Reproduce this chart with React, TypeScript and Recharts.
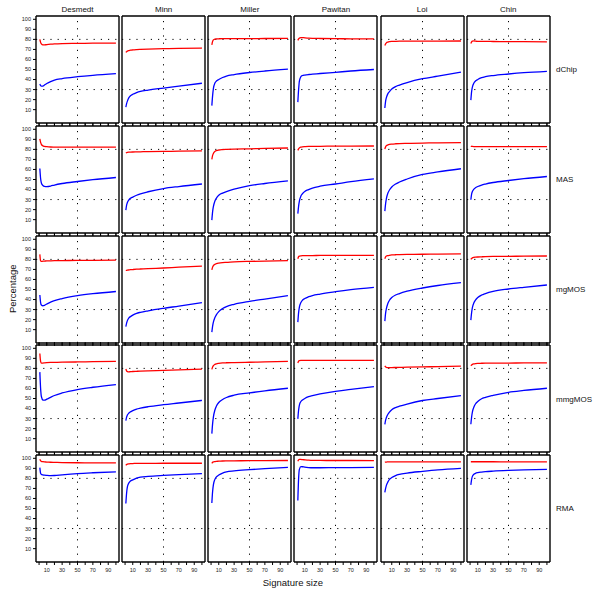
import { LineChart, Line, XAxis, YAxis, ReferenceLine } from 'recharts'

const sizes = [1, 2, 3, 5, 7, 10, 15, 20, 30, 50, 70, 100]
const datasets = ['Desmedt', 'Minn', 'Miller', 'Pawitan', 'Loi', 'Chin']
const methods = ['dChip', 'MAS', 'mgMOS', 'mmgMOS', 'RMA']
const xTicks = [0, 10, 20, 30, 40, 50, 60, 70, 80, 90, 100]
const xLabels = [10, 30, 50, 70, 90]
const yTicks = [10, 20, 30, 40, 50, 60, 70, 80, 90, 100]

// one array per dataset, in the order of `datasets`
const dChipRed = [
  [80, 77, 75.5, 74.5, 74.5, 74.8, 75.2, 75.5, 75.8, 76, 76.2, 76.3],
  [67, 67.8, 68.3, 68.8, 69.2, 69.5, 69.8, 70, 70.3, 70.7, 71, 71.4],
  [74.5, 78, 79.5, 80.3, 80.5, 80.6, 80.7, 80.7, 80.8, 80.8, 80.9, 81],
  [79, 80.5, 81.3, 81.7, 81.8, 81.6, 81.3, 81.1, 80.9, 80.7, 80.6, 80.5],
  [73.8, 75.5, 76.5, 77.3, 77.7, 78, 78.1, 78.2, 78.3, 78.3, 78.3, 78.4],
  [75.8, 77.5, 78.3, 78.5, 78.3, 78.1, 78, 78, 77.9, 77.8, 77.7, 77.6],
]
const dChipBlue = [
  [35.5, 34, 33.5, 33.5, 34.5, 36, 38, 39.5, 41, 42.8, 44.2, 45.8],
  [12.5, 16, 18.5, 22, 23.8, 25.3, 27, 28.2, 29.5, 31.5, 33.5, 36.3],
  [14, 24, 31, 36.5, 38.5, 40, 42, 43.5, 45, 47, 48.5, 50.3],
  [17.5, 30, 38.5, 43, 44, 44.5, 45, 45.3, 46, 47.2, 48.5, 50],
  [11.7, 18.5, 22, 26, 28, 30.5, 33, 34.5, 37, 40.8, 43.3, 47.3],
  [19.5, 28, 32.5, 36.5, 38.5, 40, 41.8, 42.8, 44, 45.5, 46.8, 48.2],
]
const masRed = [
  [90.5, 87, 85, 83.5, 83, 82.7, 82.4, 82.3, 82.2, 82.2, 82.2, 82.3],
  [76.5, 76.8, 77, 77.2, 77.3, 77.4, 77.5, 77.6, 77.8, 78, 78.2, 78.5],
  [70, 74, 76, 78, 78.8, 79.4, 79.8, 80, 80.3, 80.6, 81, 81.4],
  [79, 80.5, 81.5, 82.3, 82.6, 82.8, 83, 83, 83.1, 83.2, 83.3, 83.4],
  [80.3, 82.5, 83.7, 84.5, 85, 85.3, 85.6, 85.8, 86, 86.3, 86.5, 86.8],
  [83.3, 83, 82.9, 82.8, 82.8, 82.8, 82.8, 82.8, 82.8, 82.8, 82.8, 82.8],
]
const masBlue = [
  [61, 51, 46.5, 44, 43.2, 43, 43.5, 44.5, 46, 48, 49.8, 52],
  [19.5, 24.5, 27, 29.8, 31.3, 32.5, 34.3, 35.7, 37.8, 41, 43, 45.5],
  [9.5, 18, 23, 28.5, 31.5, 34.3, 36.5, 38, 40.3, 43.8, 46, 48.6],
  [16, 23.5, 28.5, 33.5, 35.8, 38, 40, 41.5, 43.3, 45.5, 47.8, 50.6],
  [18.5, 26, 31, 36.5, 39.5, 42.5, 45.5, 47.5, 50.5, 55, 57.5, 60.7],
  [29.8, 35.5, 38, 40.5, 41.8, 43, 44.5, 45.5, 47, 49, 50.8, 53],
]
const mgmosRed = [
  [85, 78.5, 78, 78.2, 78.3, 78.5, 78.6, 78.7, 78.8, 79, 79.1, 79.3],
  [69.2, 69, 69.3, 69.5, 69.7, 69.9, 70.2, 70.4, 70.8, 71.4, 72.2, 73.2],
  [69.6, 72.3, 73.8, 75, 75.7, 76.3, 76.8, 77, 77.5, 78, 78.3, 78.7],
  [80.7, 82.7, 83.3, 83.6, 83.7, 83.7, 83.8, 83.8, 83.9, 83.9, 84, 84],
  [80.7, 82.5, 83.3, 83.8, 84.1, 84.4, 84.6, 84.8, 85, 85.1, 85.2, 85.4],
  [80, 80.8, 81.5, 82, 82.2, 82.4, 82.6, 82.8, 83, 83.1, 83.2, 83.4],
]
const mgmosBlue = [
  [44.5, 37, 34.5, 33.8, 34.2, 35.5, 37.5, 39, 41, 43.8, 45.8, 48],
  [13, 16.5, 19, 21.8, 23, 24.5, 26.3, 27.3, 28.8, 31.3, 33.5, 37],
  [7.5, 13.5, 17.5, 22, 25, 28, 31, 33, 35.3, 38.2, 40.5, 43.8],
  [17.5, 27, 32.5, 37, 39.3, 41, 42.8, 44, 45.5, 47.8, 49.8, 52.1],
  [18.5, 26.5, 31, 36.3, 39.3, 42, 44.5, 46, 48.3, 51.5, 54, 56.8],
  [19.5, 27, 32, 36.8, 39.5, 42, 44.5, 46, 48.2, 50.5, 52.2, 54.5],
]
const mmgmosRed = [
  [94.8, 87, 85.3, 85.3, 85.5, 85.7, 85.9, 86, 86.2, 86.4, 86.7, 87],
  [79.3, 77.5, 76.8, 76.6, 76.7, 76.9, 77.1, 77.3, 77.6, 78, 78.6, 79.3],
  [79, 81.3, 82.7, 84, 84.6, 85, 85.4, 85.6, 85.8, 86.1, 86.5, 87],
  [85.4, 87.3, 87.8, 88, 88, 88, 88, 88, 88, 88, 88, 88],
  [82.5, 81.5, 81, 80.8, 80.8, 80.8, 80.9, 81, 81.2, 81.5, 81.8, 82.2],
  [82.7, 83.4, 84, 84.5, 84.8, 85, 85.1, 85.2, 85.3, 85.3, 85.4, 85.4],
]
const mmgmosBlue = [
  [76.3, 60, 52, 48.5, 48.3, 49.3, 51.2, 53, 55.5, 58.9, 61.2, 63.9],
  [28, 31.5, 33.5, 35.5, 36.7, 38, 39.5, 40.4, 41.8, 43.8, 45.5, 48.1],
  [15, 25, 31.5, 38.5, 42.5, 46, 49, 51, 53.3, 55.6, 57.6, 60.2],
  [29.7, 38.5, 43.5, 47, 48.5, 50, 51.8, 52.8, 54.5, 57.2, 59, 61.9],
  [24.3, 28.5, 31, 34.3, 36.5, 38.8, 41, 42.3, 44.5, 48, 50, 52.8],
  [24.3, 31.5, 36.5, 41.5, 44.5, 47, 49.8, 51.2, 53.2, 56.2, 58, 60.2],
]
const rmaRed = [
  [99, 97.5, 97, 96.6, 96.4, 96.3, 96.1, 96, 95.8, 95.6, 95.5, 95.4],
  [93, 93.8, 94.2, 94.5, 94.7, 94.8, 95, 95, 95, 95.1, 95.1, 95.1],
  [95, 96, 96.5, 96.8, 97, 97.1, 97.3, 97.4, 97.5, 97.6, 97.7, 97.8],
  [97, 98.5, 99, 98.9, 98.7, 98.5, 98.2, 98, 97.9, 97.8, 97.8, 97.7],
  [96.2, 96.3, 96.3, 96.4, 96.4, 96.4, 96.4, 96.4, 96.4, 96.4, 96.4, 96.4],
  [96.6, 96.6, 96.6, 96.6, 96.6, 96.6, 96.6, 96.6, 96.6, 96.5, 96.5, 96.5],
]
const rmaBlue = [
  [90.7, 85, 84, 83.5, 83.2, 83, 82.8, 82.9, 83.6, 84.8, 85.6, 86.5],
  [55, 65.5, 71.5, 75.5, 77.3, 78.5, 80.2, 81.2, 82, 83, 83.8, 84.8],
  [55.5, 67, 73.5, 79, 81.5, 83.3, 85.3, 86.5, 87.5, 88.7, 89.7, 91],
  [58, 80, 89, 91.7, 91.6, 91.2, 90.8, 90.6, 90.6, 90.7, 90.8, 91],
  [66, 70, 73, 76.5, 79, 80.8, 82.8, 84, 85.3, 87, 88.5, 90],
  [73.5, 79, 82, 84.2, 85, 85.7, 86.3, 86.7, 87.2, 87.9, 88.4, 89],
]

const redByMethod = [dChipRed, masRed, mgmosRed, mmgmosRed, rmaRed]
const blueByMethod = [dChipBlue, masBlue, mgmosBlue, mmgmosBlue, rmaBlue]

const FONT = '"Liberation Sans", Arial, Helvetica, sans-serif'
const X0 = 36
const COL_STEP = 86.15
const PW = 83
const Y0 = 16
const ROW_STEP = 109.75
const PH = 106.5
const X_DOMAIN = [-4, 104]
const Y_DOMAIN = [-3.3, 103.3]

const tickFont = { fontSize: 5.5, fill: '#222', fontFamily: FONT }
const frame = { stroke: '#000', strokeWidth: 1.4 }
const blank = () => ''

function Panel({ row, col }: { row: number; col: number }) {
  const isLeft = col === 0
  const isTop = row === 0
  const isBottom = row === methods.length - 1
  const L = isLeft ? 24 : 1
  const R = 1
  const T = isTop ? 1 : 3
  const B = isBottom ? 17 : 3
  const px = Math.round(X0 + col * COL_STEP)
  const py = Math.round(Y0 + row * ROW_STEP)
  const red = redByMethod[row][col]
  const blue = blueByMethod[row][col]
  const data = sizes.map((s, i) => ({ size: s, red: red[i], blue: blue[i] }))

  return (
    <div style={{ position: 'absolute', left: px - L, top: py - T }}>
      <LineChart
        width={PW + L + R}
        height={Math.round(PH) + T + B}
        data={data}
        margin={{ top: 0, right: 0, bottom: 0, left: 0 }}
      >
        <XAxis
          xAxisId="b"
          dataKey="size"
          type="number"
          domain={X_DOMAIN}
          allowDataOverflow
          ticks={xTicks}
          interval={0}
          orientation="bottom"
          height={B}
          tickSize={3}
          tickMargin={3}
          stroke="#000"
          axisLine={frame}
          tick={tickFont}
          tickFormatter={isBottom ? (v: number) => (xLabels.includes(v) ? String(v) : '') : blank}
        />
        <XAxis
          xAxisId="t"
          dataKey="size"
          type="number"
          domain={X_DOMAIN}
          allowDataOverflow
          ticks={xTicks}
          interval={0}
          orientation="top"
          height={T}
          tickSize={3}
          tickLine={!isTop}
          stroke="#000"
          axisLine={frame}
          tick={tickFont}
          tickFormatter={blank}
        />
        <YAxis
          yAxisId="l"
          type="number"
          domain={Y_DOMAIN}
          allowDataOverflow
          ticks={yTicks}
          interval={0}
          width={L}
          tickSize={3}
          tickMargin={2}
          tickLine={isLeft}
          stroke="#000"
          axisLine={frame}
          tick={tickFont}
          tickFormatter={isLeft ? (v: number) => String(v) : blank}
        />
        <YAxis
          yAxisId="r"
          orientation="right"
          type="number"
          domain={Y_DOMAIN}
          allowDataOverflow
          width={R}
          tickLine={false}
          tick={false}
          stroke="#000"
          axisLine={frame}
        />
        <ReferenceLine xAxisId="b" yAxisId="l" y={80} stroke="#000" strokeDasharray="1.2 6" />
        <ReferenceLine xAxisId="b" yAxisId="l" y={30} stroke="#000" strokeDasharray="1.2 6" />
        <ReferenceLine xAxisId="b" yAxisId="l" x={50} stroke="#000" strokeDasharray="1.2 6" />
        <Line
          xAxisId="b"
          yAxisId="l"
          dataKey="blue"
          type="monotone"
          stroke="#0000ff"
          strokeWidth={1.3}
          dot={false}
          isAnimationActive={false}
        />
        <Line
          xAxisId="b"
          yAxisId="l"
          dataKey="red"
          type="monotone"
          stroke="#ff0000"
          strokeWidth={1.3}
          dot={false}
          isAnimationActive={false}
        />
      </LineChart>
    </div>
  )
}

export default function App() {
  const gridMidY = Y0 + ((methods.length - 1) * ROW_STEP + PH) / 2
  const gridMidX = X0 + ((datasets.length - 1) * COL_STEP + PW) / 2
  return (
    <div style={{ position: 'absolute', left: 0, top: 0, width: 600, height: 600, background: '#fff' }}>
      {methods.map((_, r) => datasets.map((_, c) => <Panel key={`${r}-${c}`} row={r} col={c} />))}
      <svg
        width={600}
        height={600}
        style={{ position: 'absolute', left: 0, top: 0, pointerEvents: 'none' }}
        fontFamily={FONT}
      >
        {datasets.map((d, c) => (
          <text key={d} x={X0 + c * COL_STEP + PW / 2} y={11.5} fontSize={8} textAnchor="middle" fill="#111">
            {d}
          </text>
        ))}
        {methods.map((m, r) => (
          <text key={m} x={556} y={Y0 + r * ROW_STEP + PH / 2 + 3} fontSize={8} fill="#111">
            {m}
          </text>
        ))}
        <text
          x={0}
          y={0}
          fontSize={9.5}
          textAnchor="middle"
          fill="#111"
          transform={`translate(16, ${gridMidY}) rotate(-90)`}
        >
          Percentage
        </text>
        <text x={gridMidX} y={585.5} fontSize={9.5} textAnchor="middle" fill="#111">
          Signature size
        </text>
      </svg>
    </div>
  )
}
